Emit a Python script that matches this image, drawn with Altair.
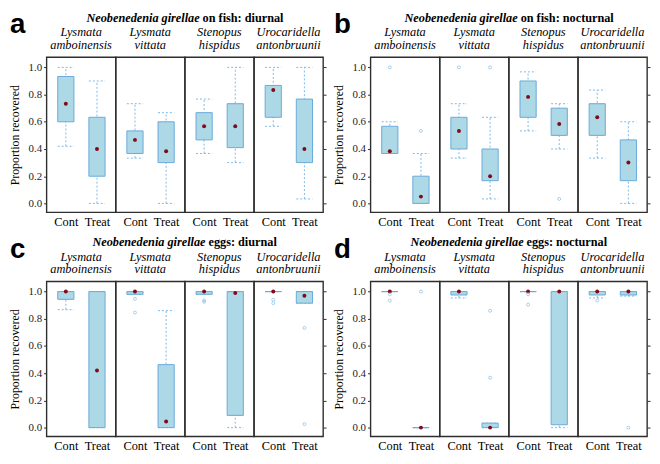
import altair as alt
import pandas as pd

# ---------------- data ----------------
SPECIES = ["Lysmata amboinensis", "Lysmata vittata", "Stenopus hispidus", "Urocaridella antonbruunii"]
TREATMENTS = ["Cont", "Treat"]
PANEL_LETTERS = ["a", "b", "c", "d"]
HEAD_ITALIC = "Neobenedenia girellae"
HEAD_REST = ["on fish: diurnal", "on fish: nocturnal", "eggs: diurnal", "eggs: nocturnal"]
Y_TICKS = [0.0, 0.2, 0.4, 0.6, 0.8, 1.0]

# (lower whisker, Q1, median, Q3, upper whisker); order: species x (Cont, Treat)
FISH_DIURNAL = [
    (0.42, 0.600, 0.733, 0.933, 1.000),
    (0.000, 0.200, 0.400, 0.633, 0.900),
    (0.333, 0.367, 0.467, 0.533, 0.733),
    (0.000, 0.300, 0.383, 0.600, 0.667),
    (0.367, 0.467, 0.567, 0.667, 0.767),
    (0.300, 0.410, 0.567, 0.733, 1.000),
    (0.567, 0.633, 0.833, 0.867, 1.000),
    (0.033, 0.300, 0.400, 0.767, 1.000),
]
FISH_NOCTURNAL = [
    (0.367, 0.367, 0.383, 0.567, 0.600),
    (0.000, 0.000, 0.050, 0.200, 0.367),
    (0.333, 0.400, 0.533, 0.633, 0.733),
    (0.033, 0.167, 0.200, 0.400, 0.633),
    (0.533, 0.633, 0.783, 0.900, 0.967),
    (0.400, 0.500, 0.583, 0.700, 0.733),
    (0.333, 0.500, 0.633, 0.733, 0.833),
    (0.000, 0.167, 0.300, 0.467, 0.600),
]
EGGS_DIURNAL = [
    (0.867, 0.943, 1.000, 1.000, 1.000),
    (0.000, 0.000, 0.420, 1.000, 1.000),
    (0.980, 0.980, 1.000, 1.000, 1.000),
    (0.000, 0.000, 0.045, 0.463, 0.860),
    (0.980, 0.980, 1.000, 1.000, 1.000),
    (0.000, 0.090, 0.990, 1.000, 1.000),
    (1.000, 1.000, 1.000, 1.000, 1.000),
    (0.915, 0.915, 0.970, 1.000, 1.000),
]
EGGS_NOCTURNAL = [
    (1.000, 1.000, 1.000, 1.000, 1.000),
    (0.000, 0.000, 0.000, 0.000, 0.000),
    (0.953, 0.975, 1.000, 1.000, 1.000),
    (0.000, 0.000, 0.000, 0.033, 0.033),
    (1.000, 1.000, 1.000, 1.000, 1.000),
    (0.000, 0.021, 1.000, 1.000, 1.000),
    (0.953, 0.975, 1.000, 1.000, 1.000),
    (0.967, 0.975, 1.000, 1.000, 1.000),
]
# outliers: (species index, treatment index, value)
FISH_DIURNAL_OUT = []
FISH_NOCTURNAL_OUT = [(0, 0, 1.0), (0, 1, 0.533), (1, 0, 1.0), (1, 1, 1.0), (2, 1, 0.033)]
EGGS_DIURNAL_OUT = [(1, 0, 0.947), (1, 0, 0.846), (2, 0, 0.935), (2, 0, 0.925),
                    (3, 0, 0.94), (3, 0, 0.915), (3, 1, 0.733), (3, 1, 0.026)]
EGGS_NOCTURNAL_OUT = [(0, 0, 0.98), (0, 0, 0.934), (0, 1, 1.0), (1, 1, 0.859), (1, 1, 0.367),
                      (2, 0, 0.98), (2, 0, 0.904), (3, 0, 0.934), (3, 1, 0.0)]

PANELS = [FISH_DIURNAL, FISH_NOCTURNAL, EGGS_DIURNAL, EGGS_NOCTURNAL]
PANEL_OUT = [FISH_DIURNAL_OUT, FISH_NOCTURNAL_OUT, EGGS_DIURNAL_OUT, EGGS_NOCTURNAL_OUT]

# ---------------- style ----------------
W, H = 70, 157
SERIF = "Liberation Serif"
SANS = "Liberation Sans"
BOX_FILL = "#ADD8E6"
BOX_STROKE = "#6AAAD9"
WHISK = "#7DB8E8"
OUTC = "#93C2EA"
DOT = "#7E0A1C"
FRAME = "#2E2E2E"
HALF = 0.26
HEAD_SPLIT = [15, 9, 21, 15]

XSCALE = alt.Scale(domain=[-0.62, 1.6], nice=False, zero=False)
YSCALE = alt.Scale(domain=[-0.065, 1.075], nice=False, zero=False)
XAXIS = alt.Axis(values=[0, 1], labelExpr="datum.value == 0 ? 'Cont' : 'Treat'",
                 ticks=False, domain=False, labelFont=SERIF, labelFontSize=12.5,
                 labelColor="black", labelPadding=3, labelOverlap=False, labelFlush=False)


def X(field):
    return alt.X(field, type="quantitative", scale=XSCALE, axis=XAXIS, title=None)


def Y(field, s):
    if s == 0:
        return alt.Y(field, type="quantitative", scale=YSCALE, title="Proportion recovered",
                     axis=alt.Axis(values=Y_TICKS, format=".1f", domain=False, tickSize=3,
                                   tickColor=FRAME, labelFont=SERIF, labelFontSize=11,
                                   labelColor="#222", labelPadding=2, minExtent=20, maxExtent=20,
                                   titleFont=SERIF, titleFontSize=12, titleFontWeight="normal",
                                   titleColor="black", titlePadding=5))
    if s == 3:
        return alt.Y(field, type="quantitative", scale=YSCALE, title=None,
                     axis=alt.Axis(orient="right", values=Y_TICKS, labels=False, domain=False,
                                   tickSize=3, tickColor=FRAME))
    return alt.Y(field, type="quantitative", scale=YSCALE, title=None, axis=None)


def species_chart(p, s):
    stats = PANELS[p][2 * s:2 * s + 2]
    df = pd.DataFrame([dict(pos=t, lw=v[0], q1=v[1], med=v[2], q3=v[3], uw=v[4])
                       for t, v in enumerate(stats)])
    base = alt.Chart(df).transform_calculate(xl=f"datum.pos - {HALF}", xr=f"datum.pos + {HALF}")
    layers = [
        base.mark_rule(color=WHISK, strokeDash=[2, 2], strokeWidth=1).encode(
            x=X("pos"), y=Y("lw", s), y2=alt.Y2("uw")),
        base.mark_rule(color=WHISK, strokeDash=[2, 2], strokeWidth=1).encode(
            x=X("xl"), x2=alt.X2("xr"), y=Y("lw", s)),
        base.mark_rule(color=WHISK, strokeDash=[2, 2], strokeWidth=1).encode(
            x=X("xl"), x2=alt.X2("xr"), y=Y("uw", s)),
        base.mark_rect(fill=BOX_FILL, stroke=BOX_STROKE, strokeWidth=1).encode(
            x=X("xl"), x2=alt.X2("xr"), y=Y("q1", s), y2=alt.Y2("q3")),
        base.mark_circle(color=DOT, size=16, opacity=1).encode(x=X("pos"), y=Y("med", s)),
    ]
    outs = [dict(pos=t, value=v) for (si, t, v) in PANEL_OUT[p] if si == s]
    if outs:
        layers.append(alt.Chart(pd.DataFrame(outs)).mark_point(
            shape="circle", filled=False, color=OUTC, size=9, strokeWidth=0.8, opacity=1).encode(
            x=X("pos"), y=Y("value", s)))
    words = SPECIES[s].split(" ")
    name_df = pd.DataFrame({"line1": [words[0]], "line2": [words[1]]})
    for field, yy in (("line1", -21), ("line2", -8)):
        layers.append(alt.Chart(name_df).mark_text(
            font=SERIF, fontSize=12.5, fontStyle="italic", align="center",
            baseline="alphabetic", color="black").encode(
            text=f"{field}:N", x=alt.value(W / 2), y=alt.value(yy)))
    if s == 0:
        head_df = pd.DataFrame({"letter": [PANEL_LETTERS[p]], "h1": [HEAD_ITALIC], "h2": [HEAD_REST[p]]})
        j = 2 * W + HEAD_SPLIT[p]
        layers.append(alt.Chart(head_df).mark_text(
            font=SANS, fontSize=28, fontWeight="bold", align="left", baseline="alphabetic",
            color="black").encode(text="letter:N", x=alt.value(-37), y=alt.value(-24)))
        layers.append(alt.Chart(head_df).mark_text(
            font=SERIF, fontSize=12.4, fontWeight="bold", fontStyle="italic", align="right",
            baseline="alphabetic", color="black").encode(text="h1:N", x=alt.value(j), y=alt.value(-36)))
        layers.append(alt.Chart(head_df).mark_text(
            font=SERIF, fontSize=12.4, fontWeight="bold", align="left",
            baseline="alphabetic", color="black").encode(text="h2:N", x=alt.value(j + 3), y=alt.value(-36)))
    return alt.layer(*layers).properties(width=W, height=H)


def panel(p):
    return alt.hconcat(*[species_chart(p, s) for s in range(4)], spacing=0, bounds="flush")


row1 = alt.hconcat(panel(0), panel(1), spacing=4)
row2 = alt.hconcat(panel(2), panel(3), spacing=4)

chart = alt.vconcat(row1, row2, spacing=6).properties(padding=0).configure_view(
    stroke=FRAME, strokeWidth=1.4).configure_axis(grid=False)

chart.save("out.html", embed_options={"renderer": "svg", "actions": False})
